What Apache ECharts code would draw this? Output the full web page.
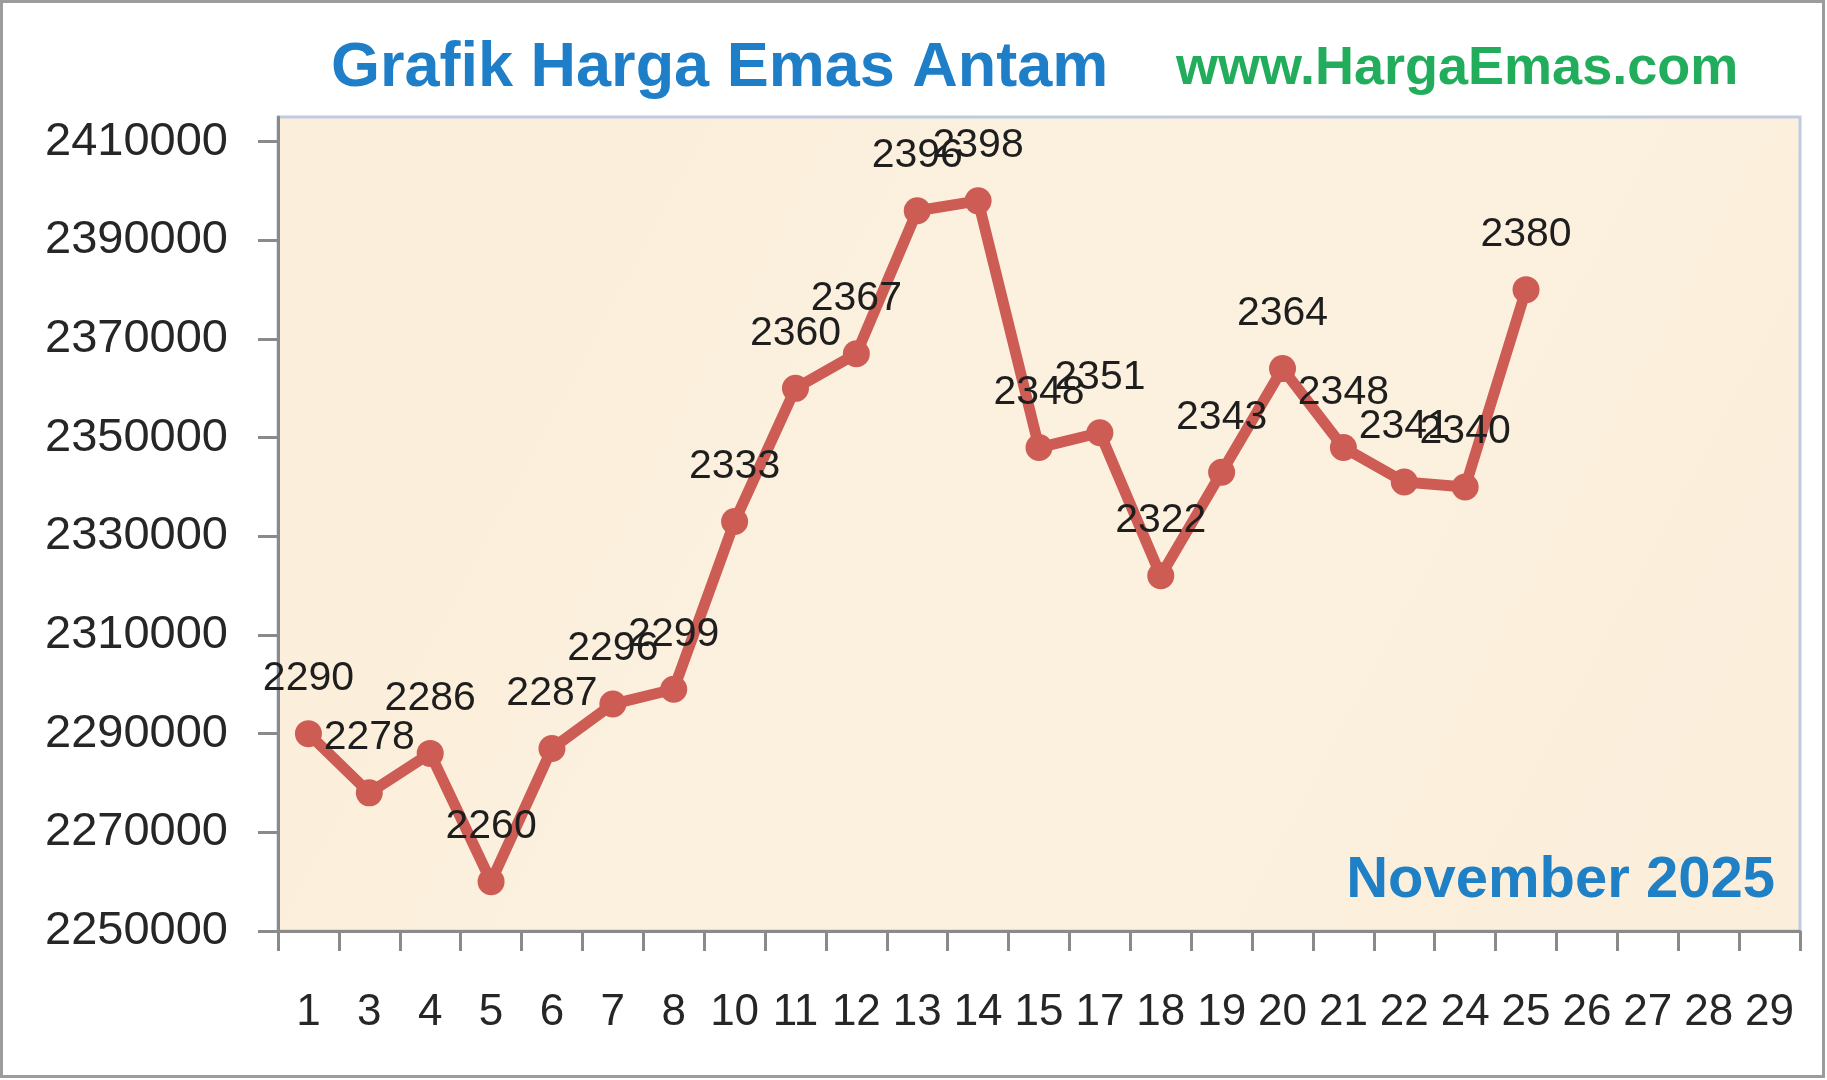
<!DOCTYPE html>
<html>
<head>
<meta charset="utf-8">
<script src="https://cdn.jsdelivr.net/npm/echarts@6/dist/echarts.min.js"></script>
<style>
html,body{margin:0;padding:0;background:#ffffff;}
#chart{width:1827px;height:1080px;}
</style>
</head>
<body>
<div id="chart"></div>
<script>
// Categories (tanggal, November 2025)
const days = ['1','3','4','5','6','7','8','10','11','12','13','14','15','17','18','19','20','21','22','24','25','26','27','28','29'];
// Harga emas Antam (Rp) per tanggal
const prices = [2290000,2278000,2286000,2260000,2287000,2296000,2299000,2333000,2360000,2367000,2396000,2398000,2348000,2351000,2322000,2343000,2364000,2348000,2341000,2340000,2380000];
// Y-axis tick labels
const yTicks = [2250000,2270000,2290000,2310000,2330000,2350000,2370000,2390000,2410000];

const titleText = 'Grafik Harga Emas Antam';
const siteText = 'www.HargaEmas.com';
const periodText = 'November 2025';

const chart = echarts.init(document.getElementById('chart'), null, {renderer:'canvas'});
const FONT = '"Liberation Sans", Arial, sans-serif';

chart.setOption({
  animation:false,
  backgroundColor:'#ffffff',
  textStyle:{fontFamily:FONT},
  title:[
    {text:titleText,left:326,top:32,textStyle:{fontFamily:FONT,fontSize:63,fontWeight:'bold',color:'#1E7EC8',lineHeight:63}},
    {text:siteText,left:1171,top:37,textStyle:{fontFamily:FONT,fontSize:54,fontWeight:'bold',color:'#22AD5C',lineHeight:54}},
    {text:periodText,right:47,top:847,textStyle:{fontFamily:FONT,fontSize:58,fontWeight:'bold',color:'#1F80C6',lineHeight:58}}
  ],
  graphic:[
    {type:'rect',shape:{x:1.5,y:1.5,width:1822,height:1075},style:{fill:null,stroke:'#9C9C9C',lineWidth:3},silent:true,z:100}
  ],
  grid:{
    left:278,right:27,top:117,bottom:149,
    show:true,
    backgroundColor:{type:'linear',x:0,y:0,x2:1,y2:1,colorStops:[{offset:0,color:'#FBEEDA'},{offset:0.5,color:'#FCF1DF'},{offset:1,color:'#FBEEDB'}]},
    borderColor:'#BFCBE0',borderWidth:3
  },
  xAxis:{
    type:'category',
    data:days,
    boundaryGap:true,
    axisLine:{show:true,lineStyle:{color:'#8A8A8A',width:3}},
    axisTick:{show:true,length:20,interval:0,lineStyle:{color:'#8A8A8A',width:3}},
    axisLabel:{interval:0,margin:60,fontSize:44,lineHeight:44,color:'#262626',fontFamily:FONT},
    splitLine:{show:false}
  },
  yAxis:{
    type:'value',
    min:2250000,max:2415000,interval:20000,
    axisLine:{show:true,lineStyle:{color:'#8A8A8A',width:3}},
    axisTick:{show:true,length:20,customValues:yTicks,lineStyle:{color:'#8A8A8A',width:3}},
    axisLabel:{customValues:yTicks,margin:50,fontSize:47,color:'#262626',fontFamily:FONT,
      formatter:v=>String(v)},
    splitLine:{show:false}
  },
  series:[{
    type:'line',
    data:prices,
    symbol:'circle',
    symbolSize:27,
    itemStyle:{color:'#CD5C55'},
    lineStyle:{color:'#CD5C55',width:11},
    label:{show:true,position:'top',distance:21,fontSize:41,lineHeight:41,color:'#1E1E1E',fontFamily:FONT,
      formatter:p=>String(Math.round(p.value/1000))},
    z:3
  }]
});
</script>
</body>
</html>
